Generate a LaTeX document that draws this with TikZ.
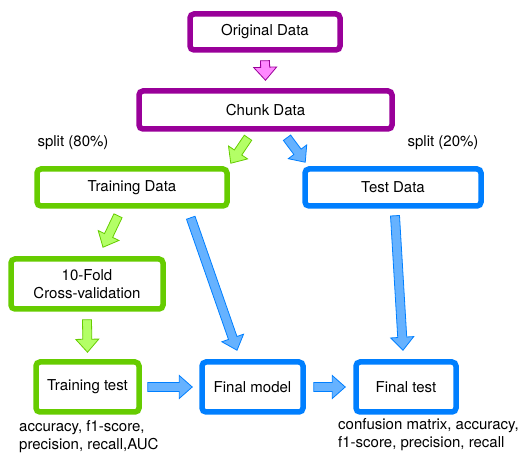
\documentclass[tikz,border=0pt]{standalone}
\usepackage{fontspec}
\setmainfont{TeX Gyre Heros}
\usetikzlibrary{calc}

\definecolor{boxpurple}{HTML}{990099}
\definecolor{boxgreen}{HTML}{66CC00}
\definecolor{boxblue}{HTML}{007FFF}
\definecolor{fillpink}{HTML}{FF88FF}
\definecolor{fillgreen}{HTML}{B3FF66}
\definecolor{fillblue}{HTML}{66B2FF}

\tikzset{
  box/.style={draw, line width=5.5pt, rounded corners=4pt, fill=white,
    align=center, inner sep=2pt},
  purplebox/.style={box, draw=boxpurple},
  greenbox/.style={box, draw=boxgreen},
  bluebox/.style={box, draw=boxblue},
  pinkarrow/.style={draw=boxpurple, fill=fillpink, line width=0.8pt},
  greenarrow/.style={draw=boxgreen, fill=fillgreen, line width=0.8pt},
  bluearrow/.style={draw=boxblue, fill=fillblue, line width=0.8pt},
  note/.style={align=left, inner sep=0pt}
}

% fat arrow from #2 to #3
\newcommand{\blockarrow}[3]{%
  \path (#2) coordinate (bs) (#3) coordinate (be);
  \coordinate (bh) at ($(be)!13pt!(bs)$);
  \draw[#1] ($(bs)!4.5pt!90:(be)$) -- ($(bh)!4.5pt!90:(be)$)
    -- ($(bh)!11.5pt!90:(be)$) -- (be) -- ($(bh)!11.5pt!-90:(be)$)
    -- ($(bh)!4.5pt!-90:(be)$) -- ($(bs)!4.5pt!-90:(be)$) -- cycle;
}

\begin{document}
\begin{tikzpicture}[x=1pt, y=1pt, font=\fontsize{15}{18}\selectfont]
  \useasboundingbox (0,0) rectangle (529,457);
  \draw
    (265,425) node[purplebox, minimum width=150, minimum height=36] (orig) {Original Data}
    (265.5,347) node[purplebox, minimum width=253, minimum height=38] (chunk) {Chunk Data}
    (132,269.5) node[greenbox, minimum width=190, minimum height=37] (train) {Training Data}
    (393,269.5) node[bluebox, minimum width=176, minimum height=37] (test) {Test Data}
    (87,173) node[greenbox, minimum width=152, minimum height=50] (cv) {10-Fold\\Cross-validation}
    (87.5,70) node[greenbox, minimum width=103, minimum height=50] (tt) {Training test}
    (252.5,70) node[bluebox, minimum width=101, minimum height=50] (fm) {Final model}
    (406,70) node[bluebox, minimum width=100, minimum height=50] (ft) {Final test};
  \draw
    (73,314) node (split80) {split (80\%)}
    (443,314) node (split20) {split (20\%)}
    (19,20) node[note, anchor=west] (ttnote) {accuracy, f1-score,\\precision, recall,AUC}
    (338,22) node[note, anchor=west] (ftnote) {confusion matrix, accuracy,\\f1-score, precision, recall};
  \blockarrow{pinkarrow}{$(orig.south)+(0,-8)$}{$(chunk.north)+(0,8)$}
  \blockarrow{greenarrow}{$(chunk.south)+(-17.5,-6)$}{$(train.north east)+(1,3)$}
  \blockarrow{bluearrow}{$(chunk.south)+(21.5,-6)$}{$(test.north west)+(3,4)$}
  \blockarrow{greenarrow}{$(train.south)+(-14,-7)$}{$(cv.north)+(16,9)$}
  \blockarrow{bluearrow}{$(train.south east)+(-39,-9)$}{$(fm.north)+(-15.5,9)$}
  \blockarrow{bluearrow}{$(test.south)+(2,-7)$}{$(ft.north)+(-3,9)$}
  \blockarrow{greenarrow}{$(cv.south)+(0,-8)$}{$(tt.north)+(0,7)$}
  \blockarrow{bluearrow}{$(tt.east)+(6,0)$}{$(fm.west)+(-7,0)$}
  \blockarrow{bluearrow}{$(fm.east)+(8,0)$}{$(ft.west)+(-8,0)$}
\end{tikzpicture}
\end{document}
